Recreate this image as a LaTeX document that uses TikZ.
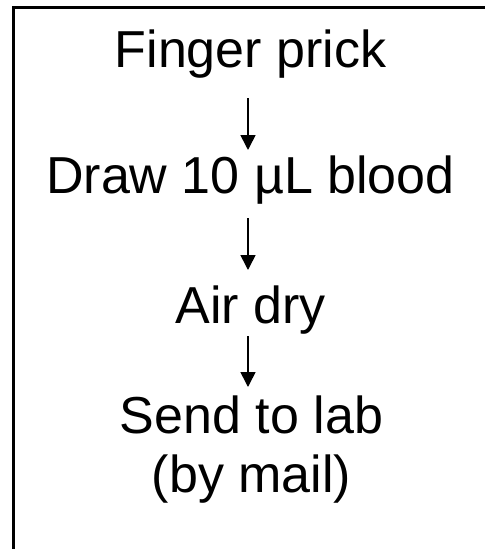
\documentclass[tikz,border=0pt]{standalone}
\usepackage{fontspec}
\setmainfont{Liberation Sans}
\usetikzlibrary{arrows.meta}
\begin{document}
\begin{tikzpicture}[x=1pt,y=1pt,
  lbl/.style={anchor=base, inner sep=0pt, font=\fontsize{52}{60}\selectfont},
  arr/.style={line width=1.6pt, -{Triangle[length=15pt,width=15pt]}},
  frame/.style={line width=2.5pt, line cap=butt}]
\useasboundingbox (0,0) rectangle (485,-549);
\fill[white] (0,0) rectangle (485,-549);
\draw[frame] (13.7,-549) -- (13.7,-7.5) -- (485,-7.5);
\node[lbl] (f) at (250.5,-67) {Finger prick};
\node[lbl] (d) at (250.5,-193) {Draw 10 µL blood};
\node[lbl] (a) at (250.5,-323) {Air dry};
\node[lbl] (s) at (251.5,-433) {Send to lab};
\node[lbl] (m) at (251.5,-492) {(by mail)};
\draw[arr] ([xshift=-2.5pt,yshift=-31pt]f.base) -- ([xshift=-2.5pt,yshift=43pt]d.base);
\draw[arr] ([xshift=-2.5pt,yshift=-25pt]d.base) -- ([xshift=-2.5pt,yshift=53pt]a.base);
\draw[arr] ([xshift=-2.5pt,yshift=-13pt]a.base) -- ([xshift=-3.5pt,yshift=46pt]s.base);
\end{tikzpicture}
\end{document}
